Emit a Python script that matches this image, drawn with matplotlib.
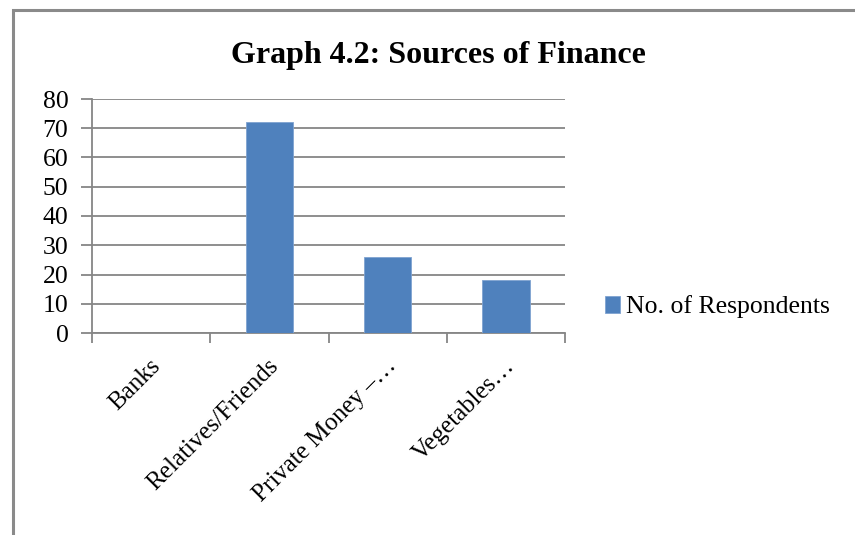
import matplotlib.pyplot as plt
from matplotlib.patches import Rectangle

plt.rcParams['font.family'] = ['Liberation Serif', 'DejaVu Serif']

categories = ["Banks", "Relatives/Friends", "Private Money \u2013\u2026", "Vegetables\u2026"]
respondents = [0, 72, 26, 18]
series_name = "No. of Respondents"

bar_color = "#4F81BD"
grid_color = "#868686"

fig = plt.figure(figsize=(8.55, 5.35), dpi=100)

# chart border (cut off at the right and bottom of the image)
fig.patches.append(Rectangle((12.5 / 855, -0.1), 1.2, 1 - 9.5 / 535 + 0.1,
                             transform=fig.transFigure, fill=False,
                             edgecolor="#8a8a8a", linewidth=2.2))

ax = fig.add_axes([92 / 855, 1 - 333 / 535, (565 - 92) / 855, (333 - 99) / 535])

x = list(range(len(categories)))
ax.bar(x, respondents, width=0.4, color=bar_color, edgecolor="#7fa3d1",
       linewidth=0.6, label=series_name, zorder=3)

ax.set_xlim(-0.5, len(categories) - 0.5)
ax.set_ylim(0, 80)
ax.set_yticks(range(0, 81, 10))
ax.yaxis.grid(True, color=grid_color, linewidth=1.3, zorder=0)

for side in ["top", "right"]:
    ax.spines[side].set_visible(False)
for side in ["left", "bottom"]:
    ax.spines[side].set_color(grid_color)
    ax.spines[side].set_linewidth(1.3)

# category boundaries carry the x ticks
ax.set_xticks([i - 0.5 for i in range(len(categories) + 1)])
ax.set_xticklabels([])
ax.tick_params(axis="x", length=7, width=1.3, color=grid_color, direction="out")
ax.tick_params(axis="y", length=8, width=1.3, color=grid_color, direction="out",
               labelsize=18.5, pad=9)

for i, lab in enumerate(categories):
    ax.text(i - 0.02, -7.5, lab, rotation=45, ha="right", va="top",
            rotation_mode="anchor", fontsize=18)

fig.text(438 / 855, 1 - 55 / 535, "Graph 4.2: Sources of Finance",
         ha="center", va="center", fontsize=23, fontweight="bold")

ax.legend(loc="center left", bbox_to_anchor=(605 / 855, 1 - 307 / 535),
          bbox_transform=fig.transFigure, frameon=False, fontsize=18.5,
          handlelength=0.6, handleheight=0.6, handletextpad=0.2,
          borderpad=0, borderaxespad=0)

fig.savefig("out.png", dpi=100)
